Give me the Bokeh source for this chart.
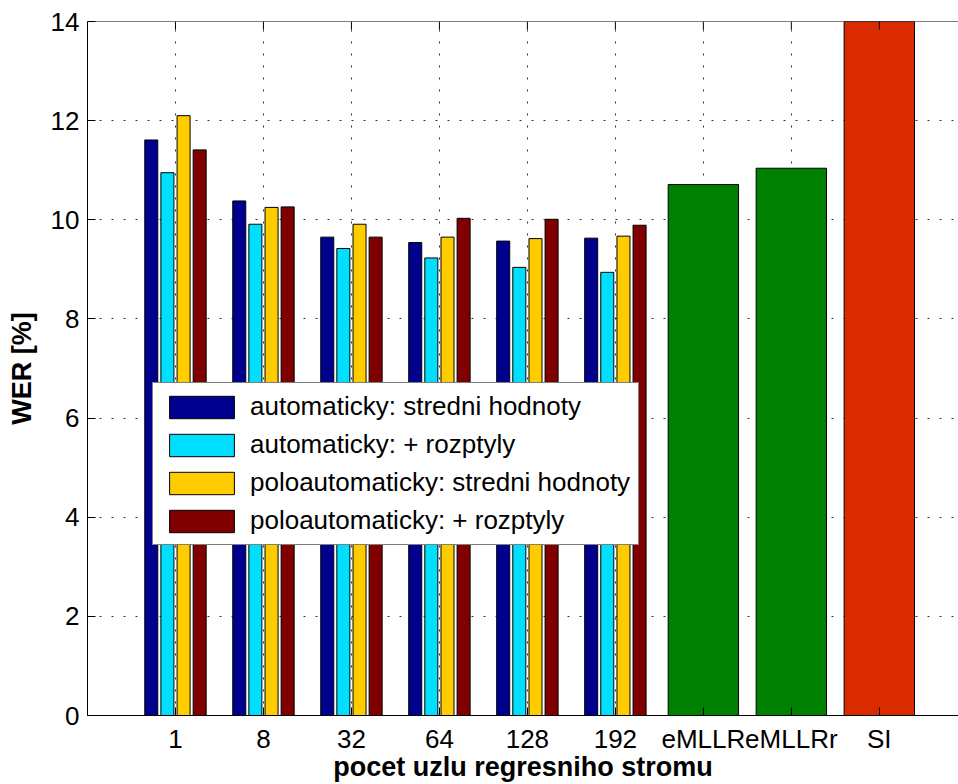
from bokeh.plotting import figure
from bokeh.models import (ColumnDataSource, Range1d, FixedTicker, Span,
                          Legend, LegendItem)
from bokeh.transform import dodge
from bokeh.embed import file_html
from bokeh.resources import INLINE

# ---------------- data ----------------
categories = ["1", "8", "32", "64", "128", "192", "eMLLR", "eMLLRr", "SI"]
group_cats = ["1", "8", "32", "64", "128", "192"]
auto_mean = [11.61, 10.38, 9.65, 9.54, 9.57, 9.63]
auto_var = [10.95, 9.91, 9.42, 9.23, 9.04, 8.94]
semi_mean = [12.10, 10.25, 9.91, 9.65, 9.62, 9.67]
semi_var = [11.41, 10.26, 9.65, 10.03, 10.01, 9.89]
single_cats = ["eMLLR", "eMLLRr", "SI"]
single_vals = [10.71, 11.04, 14.9]
series_names = ["automaticky: stredni hodnoty", "automaticky: + rozptyly",
                "poloautomaticky: stredni hodnoty", "poloautomaticky: + rozptyly"]
y_ticks = [0, 2, 4, 6, 8, 10, 12, 14]
x_label = "pocet uzlu regresniho stromu"
y_label = "WER [%]"

# ---------------- styles ----------------
FONT = "Liberation Sans"
series_colors = ["#00008F", "#00DFFF", "#FFCC00", "#800000"]
single_colors = ["#008000", "#008000", "#DA2A00"]
offsets = [-0.275, -0.092, 0.092, 0.275]

pos = {c: i + 1 for i, c in enumerate(categories)}
gsrc = ColumnDataSource(dict(
    x=[pos[c] for c in group_cats],
    s0=auto_mean, s1=auto_var, s2=semi_mean, s3=semi_var,
))
ssrc = ColumnDataSource(dict(
    x=[pos[c] for c in single_cats],
    top=single_vals,
    color=single_colors,
))
tsrc = ColumnDataSource(dict(x=[pos[c] for c in categories]))

p = figure(width=958, height=784, output_backend="svg", toolbar_location=None,
           x_range=Range1d(0, 9.9), y_range=Range1d(0, 14),
           min_border_left=87, min_border_right=0, min_border_top=21,
           min_border_bottom=69, background_fill_color="white",
           border_fill_color="white", outline_line_color=None)

renderers = []
for k, key in enumerate(["s0", "s1", "s2", "s3"]):
    r = p.vbar(x=dodge("x", offsets[k], range=p.x_range), top=key, width=0.148,
               bottom=0, source=gsrc, fill_color=series_colors[k],
               line_color="black", line_width=1)
    renderers.append(r)

p.vbar(x="x", top="top", width=0.8, bottom=0, source=ssrc,
       fill_color="color", line_color="black", line_width=1)

# top box edge with small inward ticks
p.add_layout(Span(location=14, dimension="width", line_color="black",
                  line_width=1))
p.segment(x0="x", x1="x", y0=14, y1=13.84, source=tsrc, line_color="black",
          line_width=1)

xticker = FixedTicker(ticks=[pos[c] for c in categories])
yticker = FixedTicker(ticks=y_ticks)

xa = p.xaxis[0]
xa.ticker = xticker
xa.major_label_overrides = {pos[c]: c for c in categories}
ya = p.yaxis[0]
ya.ticker = yticker

for ax in (xa, ya):
    ax.major_label_text_font = FONT
    ax.major_label_text_font_size = "26px"
    ax.major_label_text_color = "black"
    ax.major_tick_in = 8
    ax.major_tick_out = 0
    ax.minor_tick_in = 0
    ax.minor_tick_out = 0
    ax.axis_line_color = "black"
    ax.axis_line_width = 1
    ax.major_tick_line_color = "black"
    ax.axis_label_text_font = FONT
    ax.axis_label_text_font_size = "27px"
    ax.axis_label_text_font_style = "bold"
    ax.axis_label_text_color = "black"
xa.axis_label = x_label
ya.axis_label = y_label
xa.major_label_standoff = 8
ya.major_label_standoff = 8
xa.axis_label_standoff = -5
ya.axis_label_standoff = 11

# grids
p.xgrid.ticker = xticker
p.ygrid.ticker = yticker
for g in (p.xgrid, p.ygrid):
    g.grid_line_color = "black"
    g.grid_line_alpha = 0.8
    g.grid_line_dash = "2 10"
    g.grid_line_width = 1

legend = Legend(items=[LegendItem(label=series_names[k], renderers=[renderers[k]])
                       for k in range(4)],
                location=(65, 170), orientation="vertical",
                label_text_font=FONT, label_text_font_size="26px",
                label_text_color="black", glyph_width=81, glyph_height=28,
                label_standoff=8, spacing=7, padding=8, margin=0,
                border_line_color="black", border_line_width=1,
                background_fill_color="white", background_fill_alpha=1.0)
p.add_layout(legend, "center")

open("out.html", "w").write(file_html(p, INLINE))
